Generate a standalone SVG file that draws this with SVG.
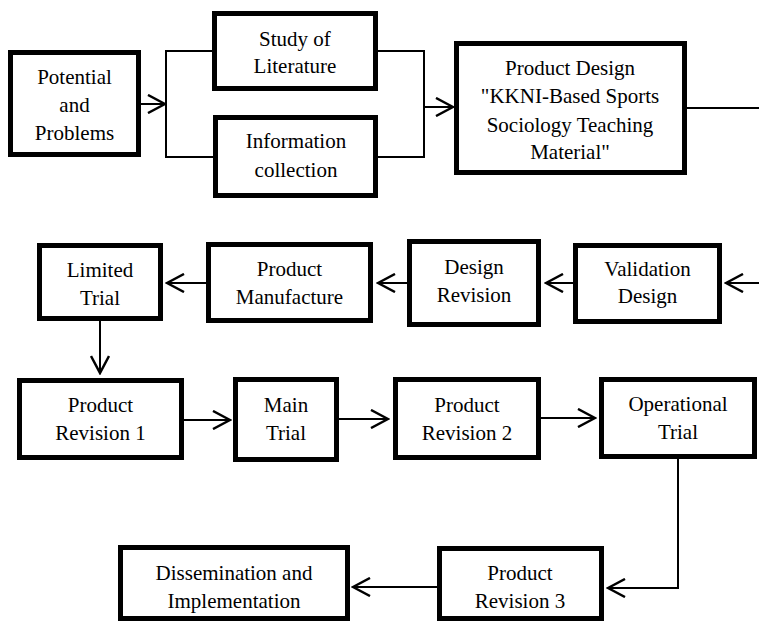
<svg xmlns="http://www.w3.org/2000/svg" width="759" height="626" viewBox="0 0 759 626">
<style>
.box{fill:#fff;stroke:#000;stroke-width:5}
.t{font-family:'Liberation Serif','Times New Roman',Times,'DejaVu Serif',serif;font-size:21px;fill:#000;text-anchor:middle}
.c{fill:none;stroke:#000;stroke-width:2}
</style>
<defs>
<marker id="ah" viewBox="0 0 20 20" refX="18" refY="10" markerWidth="20" markerHeight="20" markerUnits="userSpaceOnUse" orient="auto">
<path d="M1,1 L18,10 L1,19" fill="none" stroke="#000" stroke-width="2.5"/>
</marker>
</defs>
<rect width="759" height="626" fill="#fff"/>
<g id="connectors">
<path class="c" d="M141,104 H165" marker-end="url(#ah)"/>
<path class="c" d="M212,51 H166 V157 H213"/>
<path class="c" d="M378,51 H424 V157 H378"/>
<path class="c" d="M424,107 H453" marker-end="url(#ah)"/>
<path class="c" d="M687,108 H759"/>
<path class="c" d="M759,283 H726" marker-end="url(#ah)"/>
<path class="c" d="M573,283 H546" marker-end="url(#ah)"/>
<path class="c" d="M407,283 H378" marker-end="url(#ah)"/>
<path class="c" d="M206,283 H167" marker-end="url(#ah)"/>
<path class="c" d="M100,321 V373" marker-end="url(#ah)"/>
<path class="c" d="M184,420 H230" marker-end="url(#ah)"/>
<path class="c" d="M339,419 H388" marker-end="url(#ah)"/>
<path class="c" d="M541,418 H595" marker-end="url(#ah)"/>
<path class="c" d="M678,459 V588 H608" marker-end="url(#ah)"/>
<path class="c" d="M437,587 H353" marker-end="url(#ah)"/>
</g>
<g id="potential">
<rect class="box" x="10.5" y="52.5" width="128" height="102"/>
<text class="t" font-family="Liberation Serif, serif" x="74.5" y="84">Potential</text>
<text class="t" font-family="Liberation Serif, serif" x="74.5" y="112">and</text>
<text class="t" font-family="Liberation Serif, serif" x="74.5" y="140">Problems</text>
</g>
<g id="study">
<rect class="box" x="214.5" y="13.5" width="161" height="75"/>
<text class="t" x="295" y="46">Study of</text>
<text class="t" x="295" y="73">Literature</text>
</g>
<g id="info">
<rect class="box" x="215.5" y="117.5" width="160" height="78"/>
<text class="t" x="296" y="148">Information</text>
<text class="t" x="296" y="177">collection</text>
</g>
<g id="design">
<rect class="box" x="456.5" y="43.5" width="228" height="129"/>
<text class="t" x="570" y="75">Product Design</text>
<text class="t" x="570" y="103">"KKNI-Based Sports</text>
<text class="t" x="570" y="132">Sociology Teaching</text>
<text class="t" x="570" y="159">Material"</text>
</g>
<g id="validation">
<rect class="box" x="575.5" y="245.5" width="144" height="76"/>
<text class="t" x="647.5" y="276">Validation</text>
<text class="t" x="647.5" y="303">Design</text>
</g>
<g id="design-revision">
<rect class="box" x="409.5" y="241.5" width="129" height="83"/>
<text class="t" x="474" y="274">Design</text>
<text class="t" x="474" y="302">Revision</text>
</g>
<g id="manufacture">
<rect class="box" x="208.5" y="244.5" width="162" height="76"/>
<text class="t" x="289.5" y="276">Product</text>
<text class="t" x="289.5" y="304">Manufacture</text>
</g>
<g id="limited">
<rect class="box" x="39.5" y="245.5" width="121" height="73"/>
<text class="t" x="100" y="277">Limited</text>
<text class="t" x="100" y="305">Trial</text>
</g>
<g id="rev1">
<rect class="box" x="19.5" y="380.5" width="162" height="77"/>
<text class="t" x="100.5" y="412">Product</text>
<text class="t" x="100.5" y="440">Revision 1</text>
</g>
<g id="main">
<rect class="box" x="235.5" y="379.5" width="101" height="80"/>
<text class="t" x="286" y="412">Main</text>
<text class="t" x="286" y="440">Trial</text>
</g>
<g id="rev2">
<rect class="box" x="395.5" y="379.5" width="143" height="78"/>
<text class="t" x="467" y="412">Product</text>
<text class="t" x="467" y="440">Revision 2</text>
</g>
<g id="operational">
<rect class="box" x="601.5" y="379.5" width="153" height="77"/>
<text class="t" x="678" y="411">Operational</text>
<text class="t" x="678" y="439">Trial</text>
</g>
<g id="rev3">
<rect class="box" x="439.5" y="548.5" width="162" height="70"/>
<text class="t" x="520" y="580">Product</text>
<text class="t" x="520" y="608">Revision 3</text>
</g>
<g id="dissemination">
<rect class="box" x="120.5" y="547.5" width="227" height="71"/>
<text class="t" x="234" y="580">Dissemination and</text>
<text class="t" x="234" y="608">Implementation</text>
</g>
</svg>
